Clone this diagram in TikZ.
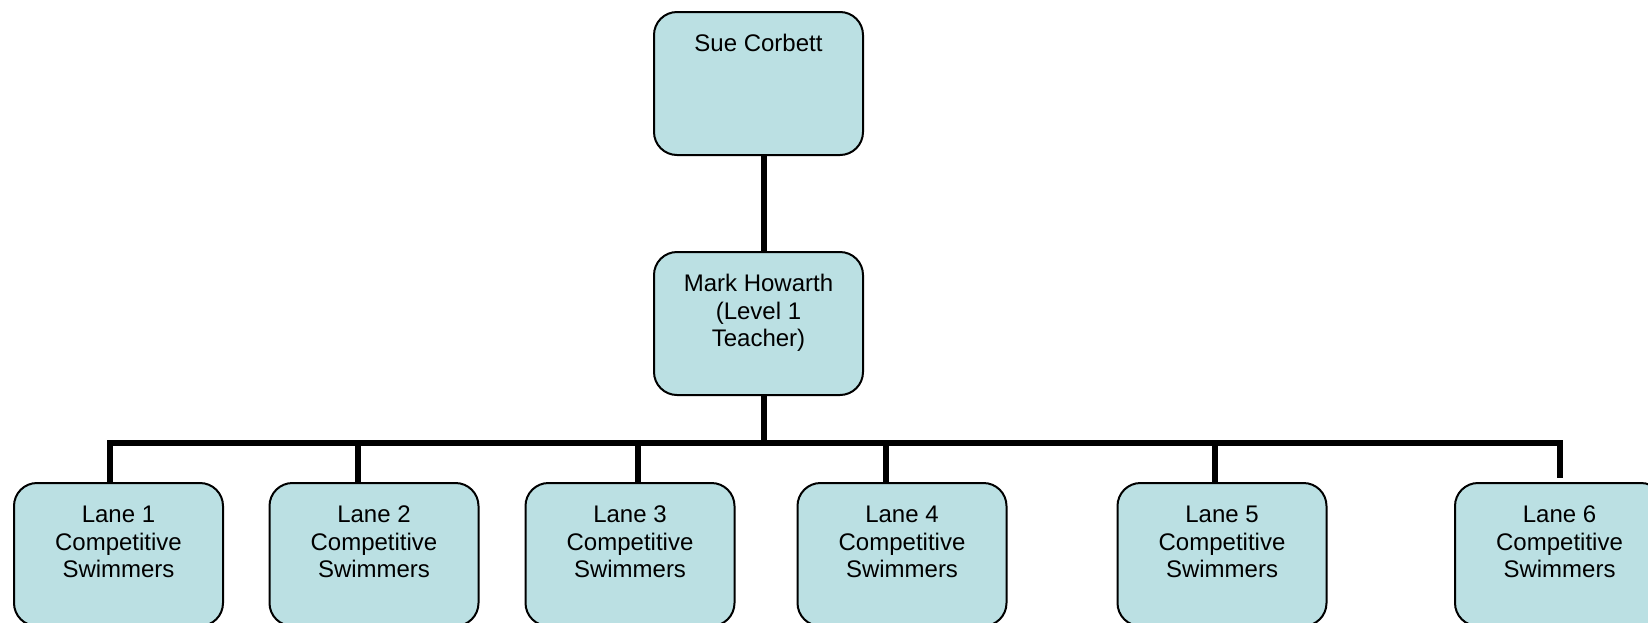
\documentclass[tikz,border=0pt]{standalone}
\usepackage{fontspec}
\setmainfont{Liberation Sans}
\usepackage{xcolor}
\definecolor{boxblue}{RGB}{187,224,227}
\newcommand{\boxtext}[1]{\parbox[c][71.5pt][t]{104.5pt}{\centering\rule{0pt}{19.8pt}#1}}

\begin{document}
\begin{tikzpicture}[x=0.5pt,y=-0.5pt,
  orgbox/.style={draw,line width=1pt,fill=boxblue,rounded corners=11.5pt,inner sep=0pt,
    font=\fontsize{12pt}{13.75pt}\selectfont},
  link/.style={line width=3pt}]
\useasboundingbox (0,0) rectangle (1648,622);
\clip (0,0) rectangle (1648,622);
\node[orgbox] (sue) at (758.5,83.5) {\boxtext{Sue Corbett}};
\node[orgbox] (mark) at (758.5,323.5) {\boxtext{Mark Howarth\\(Level 1\\Teacher)}};
\foreach \n/\x in {1/118.5,2/374,3/630,4/902,5/1222,6/1559.5}
  \node[orgbox] (lane\n) at (\x,554.5) {\boxtext{Lane \n\\Competitive\\Swimmers}};
\coordinate (bus) at (763.5,443);
\draw[link] ([xshift=2.5pt]sue.south) -- ([xshift=2.5pt]mark.north);
\draw[link] ([xshift=2.5pt]mark.south) -- (bus);
\draw[link] ([xshift=-4.25pt]lane1.north) |- (bus) -| ([yshift=2pt]lane6.north);
\foreach \n/\dx in {2/-8,3/4,4/-8,5/-3.5}
  \draw[link] ([xshift=\dx pt]lane\n.north) coordinate (d\n) -- (d\n |- bus);
\end{tikzpicture}
\end{document}
